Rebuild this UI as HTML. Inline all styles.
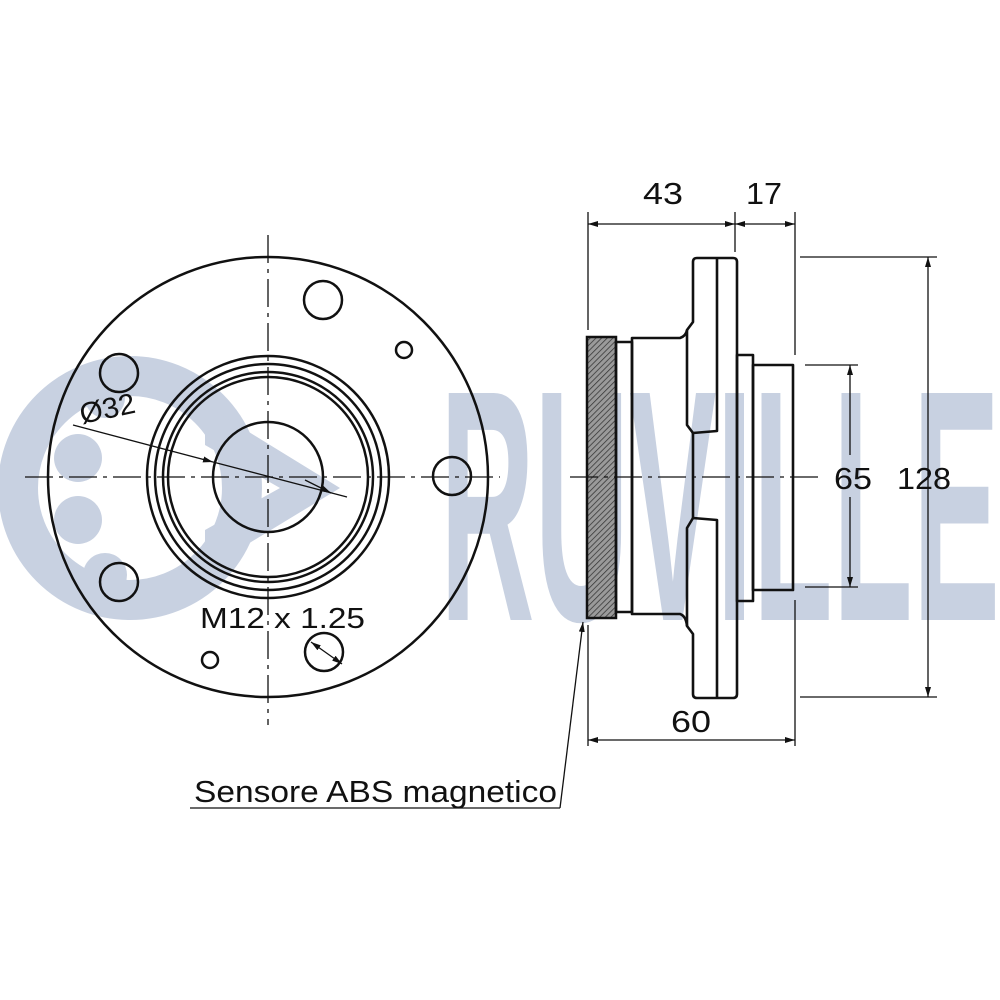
<!DOCTYPE html>
<html><head><meta charset="utf-8"><style>
html,body{margin:0;padding:0;background:#fff;}
svg{display:block;}
text{font-family:"Liberation Sans",sans-serif;fill:#111;}
</style></head><body>
<svg width="1000" height="1000" viewBox="0 0 1000 1000" xmlns="http://www.w3.org/2000/svg">
<defs>
<pattern id="h" width="4" height="4" patternUnits="userSpaceOnUse" patternTransform="rotate(45)">
<rect width="4" height="4" fill="#9a9a9a"/><line x1="0" y1="0" x2="0" y2="4" stroke="#333" stroke-width="1.5"/>
</pattern>
<marker id="a" viewBox="0 0 10 6" refX="10" refY="3" markerWidth="10" markerHeight="6" orient="auto-start-reverse" markerUnits="userSpaceOnUse"><path d="M0,0 L10,3 L0,6z" fill="#111"/></marker>
</defs>
<g fill="#c8d1e1" stroke="none">
<circle cx="130" cy="488" r="112" fill="none" stroke="#c8d1e1" stroke-width="40"/>
<circle cx="78" cy="458" r="24"/><circle cx="78" cy="520" r="24"/><circle cx="105" cy="575" r="22"/><circle cx="105" cy="398" r="20"/>
<path d="M205,405 L340,488 L205,570 L205,530 L280,488 L205,445z"/>
<text x="440" y="620" font-size="330" font-weight="bold" textLength="560" lengthAdjust="spacingAndGlyphs" style="fill:#c8d1e1">RUVILLE</text>
</g>
<g fill="none" stroke="#111" stroke-width="2.5">
<circle cx="268" cy="477" r="220"/>
<circle cx="268" cy="477" r="121"/>
<circle cx="268" cy="477" r="113"/>
<circle cx="268" cy="477" r="105"/>
<circle cx="268" cy="477" r="100"/>
<circle cx="268" cy="477" r="55"/>
<circle cx="323" cy="300" r="19"/>
<circle cx="119" cy="373" r="19"/>
<circle cx="119" cy="582" r="19"/>
<circle cx="452" cy="476" r="19"/>
<circle cx="324" cy="652" r="19"/>
<circle cx="404" cy="350" r="8"/>
<circle cx="210" cy="660" r="8"/>
</g>
<g stroke="#111" stroke-width="1.3" fill="none">
<line x1="25" y1="477" x2="500" y2="477" stroke-dasharray="28,6,4,6"/>
<line x1="268" y1="235" x2="268" y2="725" stroke-dasharray="28,6,4,6"/>
<line x1="73" y1="425" x2="213" y2="462" marker-end="url(#a)"/>
<line x1="213" y1="462" x2="347" y2="497"/>
<line x1="305" y1="480" x2="331" y2="493" marker-end="url(#a)"/>
<line x1="311" y1="642" x2="342" y2="664" marker-start="url(#a)" marker-end="url(#a)"/>
</g>
<text x="82" y="424" font-size="29" textLength="56" lengthAdjust="spacingAndGlyphs" transform="rotate(-12 82 424)">Ø32</text>
<text x="200" y="628" font-size="29" textLength="165" lengthAdjust="spacingAndGlyphs">M12 x 1.25</text>
<rect x="587" y="337" width="29" height="281" fill="url(#h)" stroke="#111" stroke-width="2.5"/>
<g fill="none" stroke="#111" stroke-width="2.6" stroke-linejoin="round">
<rect x="616" y="342" width="16" height="270"/>
<path d="M632,338 L680,338 Q686,336 687,330 L693,322 L693,262 Q693,258 697,258 L733,258 Q737,258 737,262 L737,694 Q737,698 733,698 L697,698 Q693,698 693,694 L693,634 L687,626 Q686,616 680,614 L632,614 Z"/>
<path d="M687,330 L687,425 L693,433 L717,431 L717,258"/>
<path d="M687,626 L687,528 L693,518 L717,520 L717,698"/>
<line x1="693" y1="433" x2="693" y2="518"/>
<rect x="737" y="355" width="16" height="246"/>
<rect x="753" y="365" width="40" height="225"/>
</g>
<g stroke="#111" stroke-width="1.3" fill="none">
<line x1="570" y1="477" x2="820" y2="477" stroke-dasharray="28,6,4,6"/>
<line x1="588" y1="212" x2="588" y2="330"/>
<line x1="735" y1="212" x2="735" y2="252"/>
<line x1="795" y1="212" x2="795" y2="355"/>
<line x1="588" y1="224" x2="735" y2="224" marker-start="url(#a)" marker-end="url(#a)"/>
<line x1="735" y1="224" x2="795" y2="224" marker-start="url(#a)" marker-end="url(#a)"/>
<line x1="800" y1="257" x2="937" y2="257"/>
<line x1="800" y1="697" x2="937" y2="697"/>
<line x1="928" y1="257" x2="928" y2="697" marker-start="url(#a)" marker-end="url(#a)"/>
<line x1="805" y1="365" x2="858" y2="365"/>
<line x1="805" y1="587" x2="858" y2="587"/>
<line x1="850" y1="365" x2="850" y2="455" marker-start="url(#a)"/>
<line x1="850" y1="497" x2="850" y2="587" marker-end="url(#a)"/>
<line x1="588" y1="625" x2="588" y2="746"/>
<line x1="795" y1="600" x2="795" y2="746"/>
<line x1="588" y1="740" x2="795" y2="740" marker-start="url(#a)" marker-end="url(#a)"/>
<line x1="190" y1="808" x2="560" y2="808"/>
<line x1="560" y1="808" x2="583" y2="622" marker-end="url(#a)"/>
</g>
<text x="643" y="204" font-size="31" textLength="40" lengthAdjust="spacingAndGlyphs">43</text>
<text x="746" y="204" font-size="31" textLength="36" lengthAdjust="spacingAndGlyphs">17</text>
<text x="834" y="489" font-size="31" textLength="38" lengthAdjust="spacingAndGlyphs">65</text>
<text x="897" y="489" font-size="31" textLength="54" lengthAdjust="spacingAndGlyphs">128</text>
<text x="671" y="732" font-size="31" textLength="40" lengthAdjust="spacingAndGlyphs">60</text>
<text x="194" y="802" font-size="31" textLength="363" lengthAdjust="spacingAndGlyphs">Sensore ABS magnetico</text>
</svg>
</body></html>
